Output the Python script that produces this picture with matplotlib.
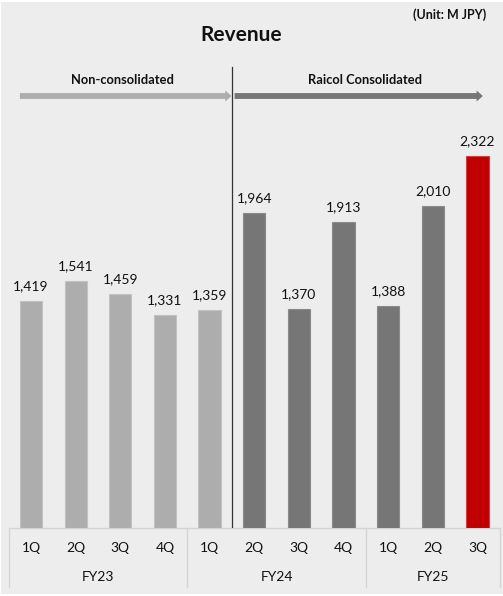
import matplotlib
matplotlib.use("Agg")
import matplotlib.pyplot as plt
from matplotlib.patches import Rectangle

# data
quarters = ["1Q", "2Q", "3Q", "4Q", "1Q", "2Q", "3Q", "4Q", "1Q", "2Q", "3Q"]
revenue = [1419, 1541, 1459, 1331, 1359, 1964, 1370, 1913, 1388, 2010, 2322]
fiscal_years = ["FY23", "FY24", "FY25"]
fy_sizes = [4, 4, 3]
n_nonconsol = 5          # first 5 quarters are non-consolidated

LIGHT, DARK, RED = "#ADADAD", "#767676", "#C00000"
BG = "#EDEDED"
GRID = "#D4D4D4"
bar_colors = [LIGHT] * n_nonconsol + [DARK] * (len(revenue) - n_nonconsol - 1) + [RED]
edge_colors = ["#C2C2C2"] * n_nonconsol + ["#8A8A8A"] * (len(revenue) - n_nonconsol - 1) + ["#D04040"]

plt.rcParams["font.family"] = ["Lato", "DejaVu Sans"]

W, H = 503, 596
fig = plt.figure(figsize=(W / 100, H / 100), dpi=100, facecolor="white")
fig.patches.append(Rectangle((1 / W, 2 / H), 1 - 1 / W, 1 - 4 / H, transform=fig.transFigure,
                             facecolor=BG, edgecolor="none", zorder=-10))

# axes: baseline at y=528px, top at y=60px
ax_left, ax_right = 8.7 / W, 499.8 / W
ax_bottom, ax_top = 1 - 528 / H, 1 - 60 / H
ax = fig.add_axes([ax_left, ax_bottom, ax_right - ax_left, ax_top - ax_bottom])
ax.set_facecolor("none")
px_per_unit = 0.1602
ymax = (528 - 60) / px_per_unit
n = len(revenue)
ax.set_xlim(-0.5, n - 0.5)
ax.set_ylim(0, ymax)
for s in ax.spines.values():
    s.set_visible(False)
ax.set_xticks([])
ax.set_yticks([])

x = list(range(n))
ax.bar(x, revenue, width=0.5, color=bar_colors, edgecolor=edge_colors, linewidth=0.8, zorder=3)
for xi, v in zip(x, revenue):
    ax.text(xi, v + 55, f"{v:,}", ha="center", va="bottom", fontsize=10, color="#111111")

# split line between non-consolidated and consolidated
split = n_nonconsol - 0.5
ax.plot([split, split], [0, (528 - 67) / px_per_unit], color="#333333", lw=0.9, zorder=4)

# arrows
arrow_y = (528 - 96) / px_per_unit
style = "simple,head_width=0.8,head_length=0.45,tail_width=0.42"
ax.annotate("", xy=(split - 0.01, arrow_y), xytext=(-0.25, arrow_y),
            arrowprops=dict(arrowstyle=style, mutation_scale=10, color=LIGHT,
                            shrinkA=0, shrinkB=0, lw=0))
ax.annotate("", xy=(10.12, arrow_y), xytext=(4.56, arrow_y),
            arrowprops=dict(arrowstyle=style, mutation_scale=10, color=DARK,
                            shrinkA=0, shrinkB=0, lw=0))
label_y = (528 - 80) / px_per_unit
ax.text((122 - 31) / 44.65, label_y, "Non-consolidated", ha="center", va="center",
        fontsize=9.3, fontweight="bold", color="#111111")
ax.text((365 - 31) / 44.65, label_y, "Raicol Consolidated", ha="center", va="center",
        fontsize=9.3, fontweight="bold", color="#111111")

# category table under the bars
tr = ax.get_xaxis_transform()
axh = 528 - 60
y_table_bot = -(587 - 528) / axh
ax.plot([-0.5, n - 0.5], [0, 0], transform=tr, color=GRID, lw=1.0, clip_on=False, zorder=2)
bounds = [-0.5]
for size in fy_sizes:
    bounds.append(bounds[-1] + size)
for b in bounds:
    ax.plot([b, b], [0, y_table_bot], transform=tr, color=GRID, lw=1.0, clip_on=False)
for xi, q in zip(x, quarters):
    ax.text(xi, -(548 - 528) / axh, q, transform=tr, ha="center", va="center",
            fontsize=10, color="#111111")
for fy, lo, hi in zip(fiscal_years, bounds[:-1], bounds[1:]):
    ax.text((lo + hi) / 2, -(577 - 528) / axh, fy, transform=tr, ha="center", va="center",
            fontsize=10, color="#111111")

fig.text(241 / W, 1 - 35 / H, "Revenue", ha="center", va="center",
         fontsize=15, fontweight="bold", color="#111111")
fig.text(486 / W, 1 - 15 / H, "(Unit: M JPY)", ha="right", va="center",
         fontsize=9, fontweight="bold", color="#111111")

fig.savefig("out.png", dpi=100, facecolor="white")
